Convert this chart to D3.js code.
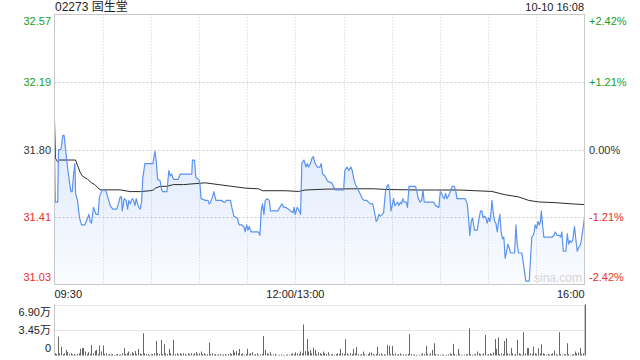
<!DOCTYPE html>
<html>
<head>
<meta charset="utf-8">
<script src="https://cdn.jsdelivr.net/npm/d3@7"></script>
<style>
    body { margin: 0; background: #fff; }
    svg { display: block; font-family: 'Liberation Sans', Arial, 'Noto Sans CJK SC', sans-serif; }
</style>
</head>
<body>
<div id="chart"></div>
<script>
// 02273 固生堂 intraday, 10-10
const title = '02273 固生堂';
const stamp = '10-10 16:08';
const prevClose = 31.80;
const maxPct = 0.0242;

// trading minutes since 09:30 (lunch removed), price
const priceMin = [0, 0.5, 2, 2.5, 4, 5.2, 6, 6.9, 8.1, 9.4, 10.2, 11, 11.9, 12.7, 13.1, 14.3, 15.6, 16.8, 18.9, 20.6,
    21.4, 22.2, 23, 24.3, 25.1, 26, 27.2, 28, 29.7, 31, 32.2, 33.4, 34.7, 36.3, 38.8, 40.1, 40.9, 41.7, 42.2, 43.4,
    44.6, 45.5, 46.3, 47.1, 48.4, 49.2, 50.1, 50.9, 51.7, 52.5, 53.4, 54.2, 55, 56.3, 61.3, 62.5, 63.3, 64.2, 65.8, 66.7,
    67.5, 70, 71.2, 72.1, 72.9, 74.1, 77, 78.3, 85.5, 85.9, 87.2, 88, 89.7, 90.5, 91.3, 93.8, 95.5, 96.3, 97.2, 98.4,
    99.2, 100.5, 102.1, 103.8, 105.5, 106.3, 107.1, 109.6, 110.4, 111.7, 113.8, 115, 116.7, 117.9, 118.7, 119.6, 120.4, 121.2, 122.5, 127,
    127.9, 128.7, 129.5, 130.4, 131.2, 132.5, 133.7, 134.5, 139.1, 140.3, 141.6, 142.8, 144.1, 145.7, 147, 148.6, 149.1, 149.9, 151.1, 152.4,
    153.2, 154, 155.3, 156.5, 157.4, 158.2, 159.4, 160.3, 161.1, 162.3, 163.6, 165.3, 166.1, 166.9, 168.3, 170, 172.5, 173.7, 175, 180,
    180.8, 182.1, 183.3, 184.5, 185.4, 186.2, 187.4, 189.1, 191.6, 192.8, 194.5, 196.6, 198.2, 199.5, 200.3, 201.1, 202, 202.8, 204.1, 204.9,
    206.1, 207, 207.8, 208.6, 209.5, 210.3, 211.1, 211.9, 212.8, 213.6, 214.4, 215.3, 216.1, 216.9, 217.8, 219, 219.8, 220.7, 224.8, 225.6,
    226.5, 227.7, 228.6, 229.4, 230.2, 236, 237.3, 239.3, 240.2, 241, 241.8, 242.7, 243.5, 244.3, 245.6, 246.8, 247.7, 248.9, 249.7, 250.6,
    255.7, 257, 257.8, 258.6, 259.5, 260.3, 261.5, 263.2, 264.4, 265.3, 266.1, 266.9, 267.8, 268.6, 269.4, 270.3, 271.1, 271.9, 272.3, 273.2,
    274, 274.8, 275.7, 276.5, 277.3, 278.1, 279, 279.8, 280.6, 281.5, 282.3, 283.1, 284, 286.5, 287.3, 288.1, 289, 291, 291.9, 292.7,
    293.5, 295.6, 296.4, 297.2, 298.5, 299.3, 300.2, 301, 301.8, 302.6, 303.1, 303.9, 304.7, 309.7, 311, 311.8, 313, 314.3, 315.1, 315.9,
    316.8, 318.4, 319.3, 320.1, 320.9, 321.7, 322.6, 323.8, 324.7, 325.5, 326.3, 327.6, 328.8, 330];
const priceVal = [31.80, 31.50, 31.50, 31.80, 31.80, 31.88, 31.88, 31.80, 31.70, 31.61, 31.56, 31.56, 31.66, 31.72, 31.55, 31.51, 31.41, 31.37, 31.37, 31.41,
    31.43, 31.39, 31.38, 31.47, 31.45, 31.43, 31.43, 31.53, 31.57, 31.57, 31.56, 31.52, 31.48, 31.46, 31.46, 31.50, 31.53, 31.53, 31.45, 31.52,
    31.51, 31.46, 31.51, 31.49, 31.52, 31.51, 31.48, 31.52, 31.49, 31.47, 31.46, 31.50, 31.64, 31.72, 31.72, 31.79, 31.74, 31.63, 31.62, 31.57,
    31.56, 31.56, 31.68, 31.65, 31.66, 31.63, 31.63, 31.66, 31.66, 31.74, 31.74, 31.64, 31.63, 31.61, 31.52, 31.51, 31.51, 31.49, 31.50, 31.53,
    31.56, 31.51, 31.51, 31.51, 31.50, 31.50, 31.51, 31.51, 31.47, 31.42, 31.41, 31.37, 31.37, 31.36, 31.33, 31.37, 31.34, 31.36, 31.33, 31.33,
    31.31, 31.45, 31.49, 31.43, 31.51, 31.52, 31.51, 31.45, 31.45, 31.47, 31.49, 31.47, 31.47, 31.46, 31.45, 31.44, 31.47, 31.43, 31.47, 31.45,
    31.43, 31.72, 31.74, 31.70, 31.72, 31.70, 31.72, 31.75, 31.76, 31.72, 31.70, 31.70, 31.72, 31.66, 31.65, 31.62, 31.61, 31.59, 31.57, 31.57,
    31.68, 31.70, 31.68, 31.70, 31.68, 31.64, 31.60, 31.57, 31.52, 31.51, 31.51, 31.49, 31.49, 31.43, 31.39, 31.40, 31.43, 31.42, 31.43, 31.44,
    31.56, 31.59, 31.60, 31.57, 31.45, 31.48, 31.52, 31.48, 31.49, 31.50, 31.48, 31.50, 31.49, 31.52, 31.50, 31.50, 31.47, 31.59, 31.59, 31.56,
    31.52, 31.50, 31.51, 31.57, 31.50, 31.50, 31.48, 31.47, 31.56, 31.55, 31.53, 31.52, 31.55, 31.52, 31.54, 31.57, 31.59, 31.59, 31.57, 31.52,
    31.52, 31.49, 31.41, 31.31, 31.39, 31.41, 31.34, 31.34, 31.41, 31.45, 31.45, 31.41, 31.42, 31.41, 31.38, 31.41, 31.39, 31.45, 31.51, 31.44,
    31.39, 31.38, 31.33, 31.39, 31.43, 31.33, 31.29, 31.30, 31.18, 31.22, 31.26, 31.24, 31.21, 31.21, 31.37, 31.26, 31.21, 31.21, 31.15, 31.10,
    31.05, 31.05, 31.18, 31.30, 31.32, 31.37, 31.35, 31.39, 31.37, 31.39, 31.45, 31.37, 31.30, 31.30, 31.31, 31.33, 31.31, 31.31, 31.30, 31.33,
    31.22, 31.22, 31.32, 31.26, 31.28, 31.27, 31.28, 31.36, 31.28, 31.22, 31.24, 31.26, 31.33, 31.41];

// average price line
const avgMin = [0, 0.6, 1.9, 3.1, 13.1, 14.3, 16, 17.2, 18.9, 20.6, 23.1, 25.1, 27.2, 28.5, 40.9, 47.1, 53.4, 59.6, 61.7, 62.9,
    65.8, 70, 74.1, 80.4, 93.8, 110.4, 118.7, 127, 129.5, 143.7, 152, 156.1, 168.6, 186.2, 198.7, 207, 227.7, 252.6, 262, 272.3,
    280.6, 288.9, 295.2, 301.4, 311.8, 322.2, 330];
const avgVal = [31.97, 31.75, 31.73, 31.74, 31.74, 31.71, 31.67, 31.65, 31.64, 31.63, 31.61, 31.60, 31.58, 31.57, 31.57, 31.56, 31.56, 31.565, 31.57, 31.58,
    31.59, 31.59, 31.60, 31.60, 31.61, 31.59, 31.58, 31.576, 31.565, 31.565, 31.561, 31.569, 31.574, 31.576, 31.576, 31.572, 31.569, 31.569, 31.565, 31.561,
    31.542, 31.53, 31.51, 31.501, 31.497, 31.49, 31.486];

// volume per minute, in 万 shares
const volume = [
    0.3, 0.2, 2.55, 0.3, 1.2, 0.2, 0.3, 0.76, 0.45, 0.2, 0.3, 0.15, 0.2, 0.1, 0.2, 0.3, 0.9, 1.0, 1.0, 0.54, 0.2, 0.45, 0.2, 1.43, 0.3, 0.63, 0.76, 0.2, 1.34, 0.54,
    1.34, 0.2, 0.3, 0.1, 0.2, 0.15, 0.2, 0.1, 0.15, 0.2, 0.1, 0.15, 0.3, 1.0, 0.2, 0.3, 0.54, 0.2, 0.45, 0.3, 0.6, 0.2, 0.9, 0.3, 0.2, 3.0, 0.3, 0.2, 0.2, 0.1,
    0.15, 0.2, 0.3, 1.97, 0.3, 0.2, 2.1, 0.2, 1.52, 0.3, 0.2, 0.9, 0.3, 0.1, 2.1, 0.2, 0.3, 0.15, 0.3, 0.2, 0.3, 0.2, 0.1, 0.3, 0.2, 0.3, 0.15, 0.3, 0.45, 0.2,
    0.3, 0.54, 0.2, 0.3, 0.15, 0.2, 1.75, 0.2, 0.3, 0.15, 0.2, 0.1, 0.15, 0.2, 0.1, 0.15, 0.2, 0.1, 0.2, 0.3, 0.2, 0.76, 0.4, 0.6, 0.3, 0.9, 0.2, 0.3, 0.1, 0.2,
    0.9, 0.2, 0.3, 0.45, 0.1, 0.2, 0.3, 0.1, 0.15, 0.2, 2.64, 0.76, 0.3, 0.2, 0.45, 0.1, 0.15, 0.2, 0.1, 0.05, 0.1, 0.15, 0.1, 0.05, 0.1, 0.15, 0.1, 0.2, 0.3, 0.2,
    0.45, 0.3, 0.2, 0.54, 0.3, 4.2, 0.6, 2.24, 0.54, 0.76, 0.3, 1.07, 0.76, 0.2, 0.45, 0.3, 0.2, 0.54, 0.3, 0.2, 0.45, 0.1, 0.15, 0.2, 0.1, 0.2, 0.3, 0.2, 0.9, 0.3,
    0.2, 2.2, 0.3, 0.1, 0.3, 0.2, 0.9, 0.3, 1.12, 0.2, 0.1, 0.2, 0.54, 0.2, 0.1, 0.2, 0.4, 0.4, 0.2, 0.1, 0.2, 1.2, 0.2, 0.3, 0.1, 0.2, 0.1, 1.43, 1.3, 0.2,
    1.3, 0.2, 0.3, 0.1, 0.2, 0.3, 0.1, 0.2, 0.1, 0.15, 0.2, 2.9, 0.2, 0.1, 0.15, 0.1, 0.05, 0.1, 0.15, 0.3, 0.2, 1.3, 0.2, 0.1, 0.3, 0.76, 1.66, 0.2, 0.1, 0.15,
    0.1, 0.15, 0.1, 0.05, 0.1, 0.15, 0.3, 0.2, 1.57, 0.2, 0.1, 0.9, 0.2, 0.1, 0.05, 0.1, 0.15, 0.2, 3.67, 0.2, 0.1, 0.15, 0.2, 0.54, 0.3, 0.2, 0.1, 0.3, 2.78, 0.1,
    0.2, 0.3, 0.2, 0.4, 2.24, 0.9, 2.46, 0.2, 0.3, 0.2, 1.97, 2.33, 0.3, 0.2, 1.0, 0.3, 0.1, 0.2, 2.1, 0.3, 0.2, 0.1, 3.14, 0.3, 1.0, 1.0, 0.3, 0.2, 1.2, 0.3,
    0.2, 1.0, 0.3, 1.52, 0.3, 0.2, 0.1, 0.2, 0.15, 0.2, 0.3, 0.67, 0.2, 0.1, 3.14, 0.2, 0.1, 0.2, 0.15, 1.66, 0.2, 0.1, 0.15, 0.2, 0.54, 0.3, 0.4, 1.0, 0.2, 0.3,
    6.9];

// axis levels (fraction of max move) and their labels
const pctLevels = [1, 0.5, 0, -0.5, -1];
const priceLabels = ['32.57', '32.19', '31.80', '31.41', '31.03'];
const pctLabels = ['+2.42%', '+1.21%', '0.00%', '-1.21%', '-2.42%'];
const timeTicks = [0, 150, 330];
const timeLabels = ['09:30', '12:00/13:00', '16:00'];
const volTicks = [0, 3.45, 6.9];
const volLabels = ['0', '3.45万', '6.90万'];

const W = 640;
const H = 360;
const plot = { left: 54.5, right: 584.5, top: 14.5, bottom: 284.5 };
const vol = { top: 304.5, bottom: 355.5 };
const green = '#1a9e1a';
const red = '#e8302a';
const gridColor = '#cfcfcf';

const svg = d3.select('#chart')
    .append('svg')
    .attr('width', W)
    .attr('height', H);

svg.append('rect').attr('width', W).attr('height', H).attr('fill', '#fff');

const x = d3.scaleLinear().domain([0, 330]).range([plot.left, plot.right]);
const y = d3.scaleLinear()
    .domain([prevClose * (1 - maxPct), prevClose * (1 + maxPct)])
    .range([plot.bottom, plot.top]);
const yv = d3.scaleLinear().domain([0, 6.9]).range([vol.bottom, vol.top]);
const levelY = (d) => y(prevClose * (1 + d * maxPct));

const defs = svg.append('defs');
const grad = defs.append('linearGradient')
    .attr('id', 'fillGrad')
    .attr('x1', 0).attr('y1', 0).attr('x2', 0).attr('y2', 1);
grad.append('stop').attr('offset', '0%').attr('stop-color', '#5b93f0').attr('stop-opacity', 0.2);
grad.append('stop').attr('offset', '100%').attr('stop-color', '#5b93f0').attr('stop-opacity', 0.03);

// grid
const vGrid = d3.range(30, 330, 30);
svg.append('g')
    .selectAll('line')
    .data(vGrid)
    .enter()
    .append('line')
    .attr('x1', (d) => Math.round(x(d)) + 0.5)
    .attr('x2', (d) => Math.round(x(d)) + 0.5)
    .attr('y1', plot.top)
    .attr('y2', plot.bottom)
    .attr('stroke', gridColor)
    .attr('stroke-dasharray', '1,2');

svg.append('g')
    .selectAll('line')
    .data([0.5, 0, -0.5])
    .enter()
    .append('line')
    .attr('x1', plot.left)
    .attr('x2', plot.right)
    .attr('y1', (d) => Math.round(levelY(d)) + 0.5)
    .attr('y2', (d) => Math.round(levelY(d)) + 0.5)
    .attr('stroke', gridColor)
    .attr('stroke-dasharray', '2,2');

// price area + line
const pts = priceMin.map((m, i) => [m, priceVal[i]]);
const area = d3.area()
    .x((d) => x(d[0]))
    .y0(plot.bottom)
    .y1((d) => y(d[1]));
svg.append('path')
    .datum(pts)
    .attr('d', area)
    .attr('fill', 'url(#fillGrad)');

const line = d3.line()
    .x((d) => x(d[0]))
    .y((d) => y(d[1]));
svg.append('path')
    .datum(avgMin.map((m, i) => [m, avgVal[i]]))
    .attr('d', line)
    .attr('fill', 'none')
    .attr('stroke', '#2b2b2b')
    .attr('stroke-width', 1);
svg.append('path')
    .datum(pts)
    .attr('d', line)
    .attr('fill', 'none')
    .attr('stroke', '#5b93f0')
    .attr('stroke-width', 1.2)
    .attr('stroke-linejoin', 'round');

svg.append('rect')
    .attr('x', plot.left)
    .attr('y', plot.top)
    .attr('width', plot.right - plot.left)
    .attr('height', plot.bottom - plot.top)
    .attr('fill', 'none')
    .attr('stroke', '#c8c8c8');

svg.append('text')
    .attr('x', 534)
    .attr('y', 282)
    .attr('font-size', 12)
    .attr('fill', '#d4d4d4')
    .text('sina.com');

// price / pct labels
const labelColor = (d) => (d > 0 ? green : d < 0 ? red : '#333');
const labelDy = (d) => (d === 1 ? 10 : d === -1 ? -4 : 4);
svg.append('g')
    .selectAll('text')
    .data(pctLevels)
    .enter()
    .append('text')
    .attr('x', 51)
    .attr('y', (d) => levelY(d) + labelDy(d))
    .attr('text-anchor', 'end')
    .attr('font-size', 11)
    .attr('fill', labelColor)
    .text((d, i) => priceLabels[i]);

svg.append('g')
    .selectAll('text')
    .data(pctLevels)
    .enter()
    .append('text')
    .attr('x', 589)
    .attr('y', (d) => levelY(d) + labelDy(d))
    .attr('font-size', 11)
    .attr('fill', labelColor)
    .text((d, i) => pctLabels[i]);

svg.append('text')
    .attr('x', 55)
    .attr('y', 11)
    .attr('font-size', 12)
    .attr('fill', '#222')
    .text(title);
svg.append('text')
    .attr('x', 584)
    .attr('y', 11)
    .attr('text-anchor', 'end')
    .attr('font-size', 11)
    .attr('fill', '#222')
    .text(stamp);

// time axis labels
svg.append('g')
    .selectAll('text')
    .data(timeTicks)
    .enter()
    .append('text')
    .attr('x', (d) => x(d))
    .attr('y', 298)
    .attr('text-anchor', (d, i) => (i === 0 ? 'start' : i === timeTicks.length - 1 ? 'end' : 'middle'))
    .attr('font-size', 11)
    .attr('fill', '#222')
    .text((d, i) => timeLabels[i]);

// volume panel
svg.append('g')
    .selectAll('line')
    .data(volTicks.slice(1))
    .enter()
    .append('line')
    .attr('x1', plot.left)
    .attr('x2', plot.right)
    .attr('y1', (d) => Math.round(yv(d)) + 0.5)
    .attr('y2', (d) => Math.round(yv(d)) + 0.5)
    .attr('stroke', gridColor)
    .attr('stroke-dasharray', '1,1');
svg.append('line')
    .attr('x1', plot.left).attr('x2', plot.left)
    .attr('y1', vol.top).attr('y2', vol.bottom)
    .attr('stroke', '#c8c8c8');
svg.append('line')
    .attr('x1', plot.right).attr('x2', plot.right)
    .attr('y1', vol.top).attr('y2', vol.bottom)
    .attr('stroke', '#c8c8c8');

svg.append('g')
    .selectAll('line')
    .data(volume)
    .enter()
    .append('line')
    .attr('x1', (d, i) => Math.round(x(i)) + 0.5)
    .attr('x2', (d, i) => Math.round(x(i)) + 0.5)
    .attr('y1', vol.bottom)
    .attr('y2', (d) => yv(d))
    .attr('stroke', '#666')
    .attr('stroke-width', 1);

svg.append('g')
    .selectAll('text')
    .data(volTicks)
    .enter()
    .append('text')
    .attr('x', 51)
    .attr('y', (d, i) => yv(d) + (i === 0 ? -4 : i === volTicks.length - 1 ? 11 : 4))
    .attr('text-anchor', 'end')
    .attr('font-size', 11)
    .attr('fill', '#222')
    .text((d, i) => volLabels[i]);
</script>
</body>
</html>
